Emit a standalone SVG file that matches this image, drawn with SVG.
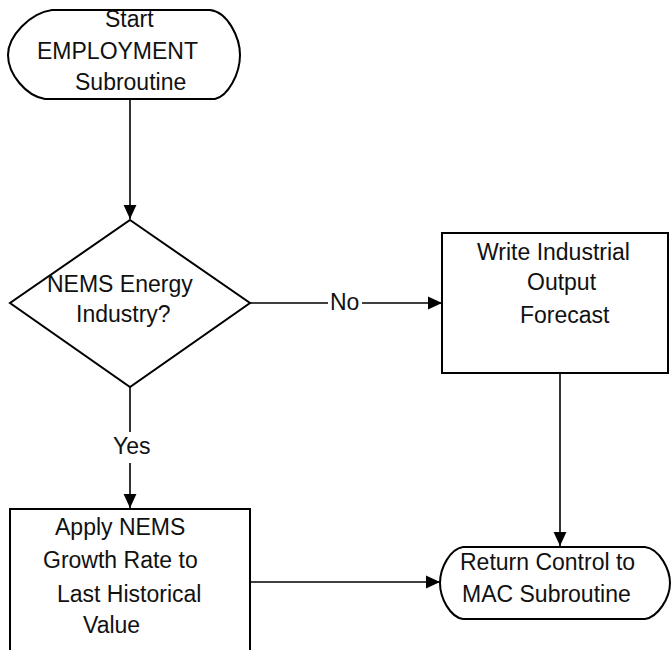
<svg xmlns="http://www.w3.org/2000/svg" width="671" height="650" viewBox="0 0 671 650">
<style>
.shape{fill:#fff;stroke:#000;stroke-width:2}
.conn{fill:none;stroke:#000;stroke-width:1.6}
text{font-family:"Liberation Sans",Arial,sans-serif;font-size:23px;fill:#111}
</style>
<defs>
<marker id="ah" markerUnits="userSpaceOnUse" markerWidth="14" markerHeight="14" viewBox="0 0 12 12" refX="12" refY="6" orient="auto">
<path d="M0,0.5 L12,6 L0,11.5 Z" fill="#000"/>
</marker>
</defs>
<rect width="671" height="650" fill="#fff"/>
<g id="connectors">
<line class="conn" x1="130" y1="99" x2="130" y2="219" marker-end="url(#ah)"/>
<line class="conn" x1="130" y1="387" x2="130" y2="432"/>
<line class="conn" x1="130" y1="463" x2="130" y2="508" marker-end="url(#ah)"/>
<line class="conn" x1="250" y1="303" x2="328" y2="303"/>
<line class="conn" x1="362" y1="303" x2="442" y2="303" marker-end="url(#ah)"/>
<line class="conn" x1="560" y1="373" x2="560" y2="546" marker-end="url(#ah)"/>
<line class="conn" x1="250" y1="582" x2="440" y2="582" marker-end="url(#ah)"/>
<text x="330" y="310">No</text>
<text x="113" y="454">Yes</text>
</g>
<g id="start">
<path class="shape" d="M52,10 H210 C228,12 240,38 240,55 C240,74 228,96 215,99 H45 C26,96 8,74 8,55 C8,36 30,13 52,10 Z"/>
<text x="105" y="27">Start</text>
<text x="37" y="59">EMPLOYMENT</text>
<text x="75" y="90">Subroutine</text>
</g>
<g id="decision">
<polygon class="shape" points="130,220 250,303 130,387 10,303"/>
<text x="47" y="292">NEMS Energy</text>
<text x="76" y="322">Industry?</text>
</g>
<g id="write">
<rect class="shape" x="442" y="233" width="226" height="140"/>
<text x="477" y="260">Write Industrial</text>
<text x="527" y="290">Output</text>
<text x="520" y="323">Forecast</text>
</g>
<g id="apply">
<rect class="shape" x="10" y="509" width="240" height="160"/>
<text x="55" y="535">Apply NEMS</text>
<text x="43" y="568">Growth Rate to</text>
<text x="57" y="602">Last Historical</text>
<text x="83" y="633">Value</text>
</g>
<g id="return">
<path class="shape" d="M463,547 H645 C660,549 670,570 670,583 C670,598 658,617 645,619 H463 C450,617 440,598 440,583 C440,568 450,549 463,547 Z"/>
<text x="460" y="570">Return Control to</text>
<text x="462" y="602">MAC Subroutine</text>
</g>
</svg>
